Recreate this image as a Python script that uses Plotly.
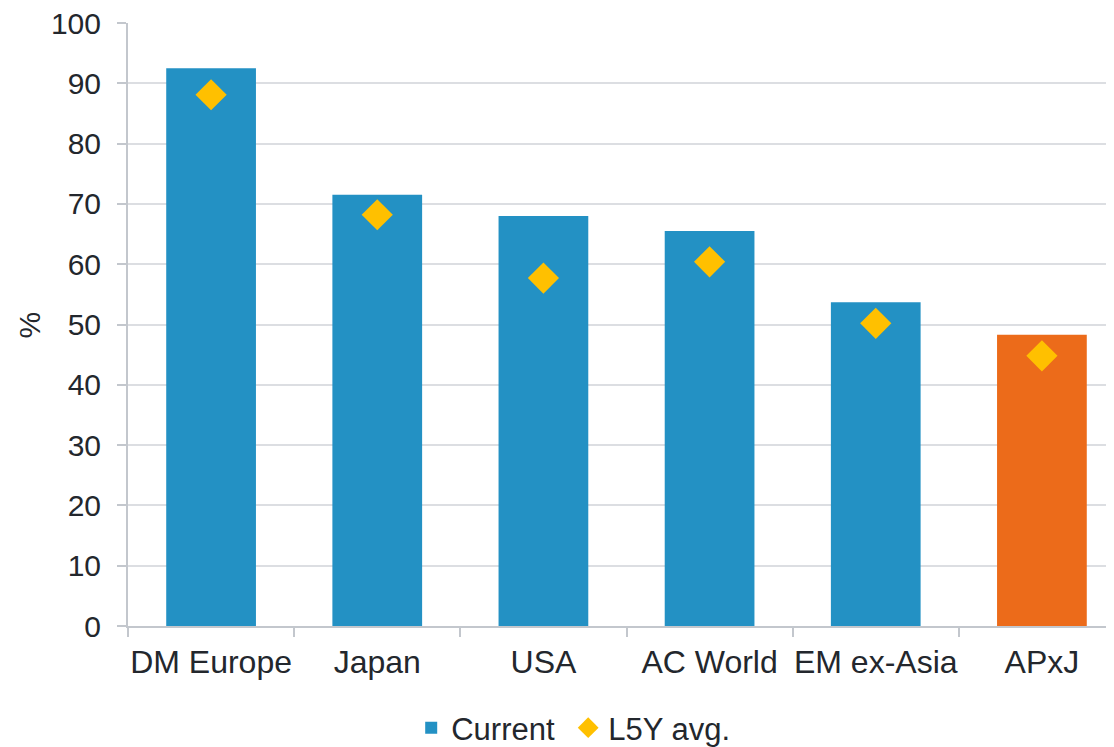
import plotly.graph_objects as go

categories = ["DM Europe", "Japan", "USA", "AC World", "EM ex-Asia", "APxJ"]
current = [92.5, 71.5, 68.0, 65.5, 53.7, 48.3]
l5y_avg = [88.1, 68.2, 57.7, 60.4, 50.2, 44.8]
y_ticks = [0, 10, 20, 30, 40, 50, 60, 70, 80, 90, 100]

bar_colors = ["#2391c4"] * 5 + ["#ec6b1a"]
text_color = "#23272d"
font_family = "Liberation Sans, Arial, sans-serif"

fig = go.Figure()
fig.add_trace(go.Bar(
    x=categories, y=current, name="Current\u00a0",
    marker=dict(color=bar_colors, line=dict(width=0)),
    width=0.54,
))
fig.add_trace(go.Scatter(
    x=categories, y=l5y_avg, name="L5Y avg.", mode="markers",
    marker=dict(symbol="diamond", size=24, color="#ffc000"),
))

fig.update_layout(
    width=1117, height=747,
    margin=dict(l=120, r=0, t=15, b=129),
    paper_bgcolor="white", plot_bgcolor="white",
    font=dict(family=font_family, size=30, color=text_color),
    showlegend=True,
    legend=dict(
        orientation="h", xref="container", yref="container",
        x=0.506, xanchor="center", y=0.0, yanchor="bottom",
        font=dict(size=31, color=text_color),
        itemwidth=30, tracegroupgap=0,
    ),
    annotations=[dict(
        text="%", textangle=-90, showarrow=False,
        xref="paper", yref="paper", x=-0.0983, y=0.5,
        xanchor="center", yanchor="middle",
        font=dict(size=30, color=text_color),
    )],
)
fig.update_xaxes(
    type="category", range=[-0.5, 5.5], automargin=False,
    showline=True, linecolor="#c3c7cd", linewidth=2,
    ticks="outside", tickson="boundaries", ticklen=9, tickwidth=2, tickcolor="#c3c7cd",
    tickangle=0, ticklabelstandoff=7,
    tickfont=dict(size=32, color=text_color),
    showgrid=False,
)
fig.update_yaxes(
    range=[0, 100], tickvals=y_ticks, automargin=False,
    showline=True, linecolor="#c3c7cd", linewidth=2,
    ticks="outside", ticklen=9, tickwidth=2, tickcolor="#c3c7cd",
    ticklabelstandoff=10, ticklabeloverflow="allow",
    gridcolor="#dcdee2", gridwidth=1.5,
    tickfont=dict(size=30, color=text_color),
    zeroline=False,
)

fig.write_html("out.html")
